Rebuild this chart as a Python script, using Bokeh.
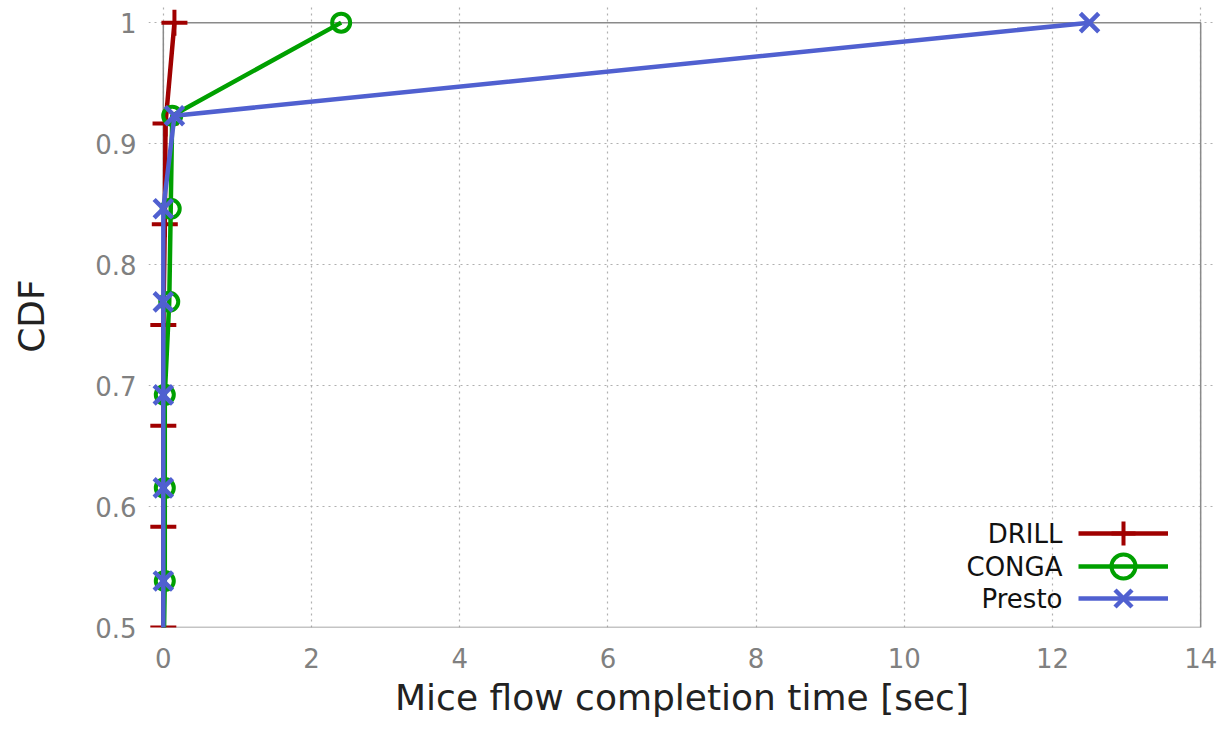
from bokeh.plotting import figure
from bokeh.models import (Range1d, FixedTicker, BoxAnnotation, Legend, LegendItem, Label)
from bokeh.core.properties import value
from bokeh.embed import file_html
from bokeh.resources import INLINE

# ---- data ----
drill_time = [0.0, 0.0, 0.0, 0.0, 0.0, 0.02, 0.03, 0.15]
drill_cdf = [0.4167, 0.5, 0.5833, 0.6667, 0.75, 0.8333, 0.9167, 1.0]

conga_time = [0.0, 0.02, 0.02, 0.02, 0.08, 0.1, 0.12, 2.4]
conga_cdf = [0.4615, 0.5385, 0.6154, 0.6923, 0.7692, 0.8462, 0.9231, 1.0]

presto_time = [0.0, 0.0, 0.0, 0.0, 0.0, 0.0, 0.15, 12.5]
presto_cdf = [0.4615, 0.5385, 0.6154, 0.6923, 0.7692, 0.8462, 0.9231, 1.0]

x_ticks = [0, 2, 4, 6, 8, 10, 12, 14]
y_ticks = [0.5, 0.6, 0.7, 0.8, 0.9, 1.0]
series_names = ["DRILL", "CONGA", "Presto"]

FONT = "DejaVu Sans"
C_DRILL = "#a00000"
C_CONGA = "#00a000"
C_PRESTO = "#5060d0"

p = figure(width=1220, height=729, output_backend="svg", toolbar_location=None,
           x_range=Range1d(-0.2, 14.2), y_range=Range1d(0.5, 1.015),
           min_border_left=148, min_border_right=5, min_border_top=4, min_border_bottom=102)
p.outline_line_color = None
p.background_fill_color = "white"
p.border_fill_color = "white"

p.xaxis.ticker = FixedTicker(ticks=x_ticks)
p.yaxis.ticker = FixedTicker(ticks=y_ticks)
p.yaxis.major_label_overrides = {0.5: "0.5", 0.6: "0.6", 0.7: "0.7", 0.8: "0.8", 0.9: "0.9", 1.0: "1"}

for ax in (p.xaxis[0], p.yaxis[0]):
    ax.axis_line_color = None
    ax.major_tick_line_color = None
    ax.minor_tick_line_color = None
    ax.major_label_text_font = FONT
    ax.major_label_text_font_size = "26px"
    ax.major_label_text_color = "#808080"
    ax.axis_label_text_font = FONT
    ax.axis_label_text_font_size = "36px"
    ax.axis_label_text_font_style = "normal"
    ax.axis_label_text_color = "#222222"

p.xaxis.axis_label = "Mice flow completion time [sec]"
p.yaxis.axis_label = "CDF"
p.xaxis.major_label_standoff = 14
p.yaxis.major_label_standoff = 6
p.xaxis.axis_label_standoff = 6
p.yaxis.axis_label_standoff = 40

p.grid.grid_line_color = "#b0b0b0"
p.grid.grid_line_dash = "2 4"
p.grid.grid_line_width = 1.2

border = BoxAnnotation(left=0, right=14, bottom=0.5, top=1.0, fill_alpha=0,
                       line_color="#8a8a8a", line_alpha=1.0, line_width=1.5, level="underlay")
p.add_layout(border)

lw = 4.5
mlw = 4
r_d_line = p.line(drill_time, drill_cdf, line_color=C_DRILL, line_width=lw)
r_d_mark = p.scatter(drill_time, drill_cdf, marker="cross", size=26, line_color=C_DRILL,
                     line_width=mlw, fill_color=None)
r_c_line = p.line(conga_time, conga_cdf, line_color=C_CONGA, line_width=lw)
r_c_mark = p.scatter(conga_time, conga_cdf, marker="circle", size=18, line_color=C_CONGA,
                     line_width=mlw, fill_color=None)
r_p_line = p.line(presto_time, presto_cdf, line_color=C_PRESTO, line_width=lw)
r_p_mark = p.scatter(presto_time, presto_cdf, marker="x", size=26, line_color=C_PRESTO,
                     line_width=mlw + 0.5, fill_color=None)

# legend: line sample on the right, label text right-aligned on the left (gnuplot style)
renderers = [[r_d_line, r_d_mark], [r_c_line, r_c_mark], [r_p_line, r_p_mark]]
legend_y = [64, 31, -1]
label_y = [94, 61, 29]
for name, rs, ly, ty in zip(series_names, renderers, legend_y, label_y):
    lg = Legend(items=[LegendItem(label=value(" "), renderers=rs)],
                location=(930, ly), padding=0, margin=0, spacing=0,
                glyph_width=90, glyph_height=60, label_width=0, label_standoff=0,
                label_text_font_size="8px",
                border_line_color=None, background_fill_alpha=0)
    p.add_layout(lg)
    p.add_layout(Label(x=914, y=ty, x_units="screen", y_units="screen", text=name,
                       text_align="right", text_baseline="middle",
                       text_font=FONT, text_font_size="26px", text_color="#111111"))

open("out.html", "w").write(file_html(p, INLINE))
